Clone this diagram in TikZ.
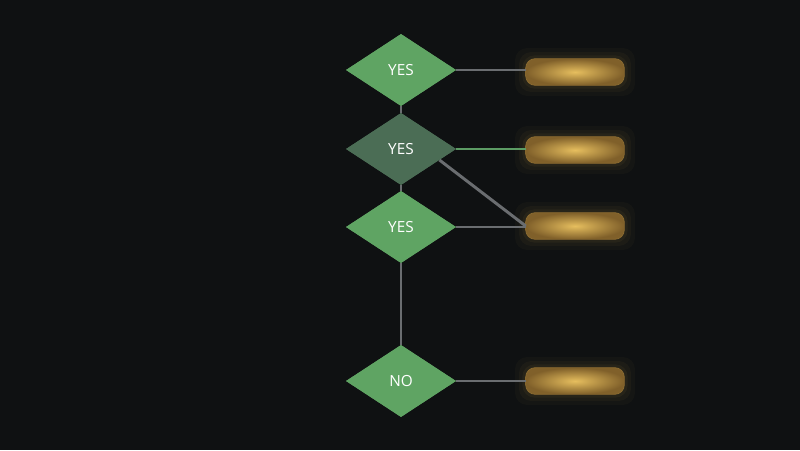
\documentclass[tikz,border=0pt]{standalone}
\usepackage{fontspec}
\setmainfont{Open Sans}
\usetikzlibrary{shapes.geometric}
\definecolor{bg}{HTML}{0F1112}
\definecolor{dgreen}{HTML}{5FA463}
\definecolor{dgreendark}{HTML}{4B6D55}
\definecolor{lgray}{HTML}{6A6D70}
\definecolor{lgreen}{HTML}{5C9C64}
\definecolor{goldin}{HTML}{E6BE5E}
\definecolor{goldout}{HTML}{80602A}
\definecolor{goldedge}{HTML}{8A6A30}
\tikzset{
  dec/.style={diamond, aspect=1.53, minimum width=82.5pt, minimum height=54pt, inner sep=0pt,
    fill=dgreen, text=white, font=\fontsize{11.5}{13}\selectfont},
  decdark/.style={dec, fill=dgreendark},
  pill/.style={rounded corners=7pt, inner color=goldin, outer color=goldout, draw=goldedge, line width=0.6pt},
  pillnode/.style={rectangle, minimum width=73.5pt, minimum height=19.5pt, inner sep=0pt},
  conn/.style={draw=lgray, line width=2.2pt},
  conng/.style={draw=lgreen, line width=2.2pt},
}
\begin{document}
\begin{tikzpicture}[x=0.75pt,y=0.75pt]
\fill[bg] (0,0) rectangle (800,450);
\useasboundingbox (0,0) rectangle (800,450);
% diamonds
\node[dec] (d1) at (401,380) {YES};
\node[decdark] (d2) at (401,301) {YES};
\node[dec] (d3) at (401,223) {YES};
\node[dec] (d4) at (401,69) {NO};
% pills (positions)
\node[pillnode] (p1) at (575,378) {};
\node[pillnode] (p2) at (575,300) {};
\node[pillnode] (p3) at (575,224) {};
\node[pillnode] (p4) at (575,69) {};
% glow and pills
\foreach \p in {p1,p2,p3,p4}{
  \foreach \g/\o in {8/0.03,5/0.04,2.5/0.05}{
    \fill[goldin, opacity=\o, rounded corners=9pt]
      ([xshift=-\g pt, yshift=-\g pt]\p.south west) rectangle ([xshift=\g pt, yshift=\g pt]\p.north east);
  }
  \shade[pill] (\p.south west) rectangle (\p.north east);
}
% connectors
\draw[conn] (d1.south) -- (d2.north);
\draw[conn] (d2.south) -- (d3.north);
\draw[conn] (d3.south) -- (d4.north);
\draw[conn] (d1.east) -- (d1.east -| p1.west);
\draw[conng] (d2.east) -- (d2.east -| p2.west);
\draw[conn] (d2.-16) -- (p3.west);
\draw[conn] (d3.east) -- (d3.east -| p3.west);
\draw[conn] (d4.east) -- (d4.east -| p4.west);
% redraw diamonds on top
\node[dec] at (d1) {YES};
\node[decdark] at (d2) {YES};
\node[dec] at (d3) {YES};
\node[dec] at (d4) {NO};
\end{tikzpicture}
\end{document}
